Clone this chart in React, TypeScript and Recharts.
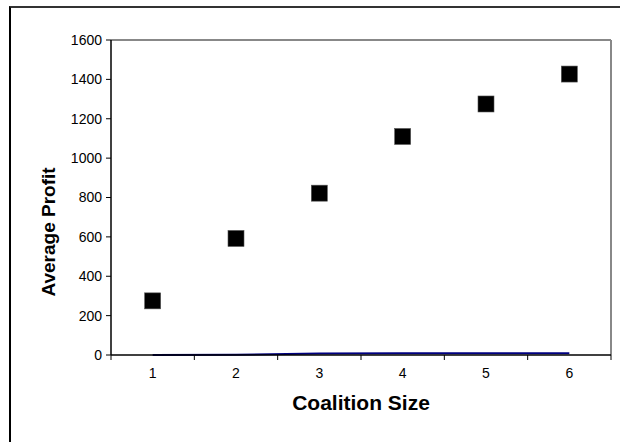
import {
  ComposedChart,
  Line,
  Scatter,
  XAxis,
  YAxis,
  ReferenceLine,
} from "recharts";

const sizes = [1, 2, 3, 4, 5, 6];
const avgProfit = [275, 592, 822, 1110, 1275, 1427];
const lowerLine = [0, 1, 8, 9, 9, 9];
const yTicks = [0, 200, 400, 600, 800, 1000, 1200, 1400, 1600];
const xTickMarks = [0.5, 1.5, 2.5, 3.5, 4.5, 5.5, 6.5];

const font = "'Liberation Sans', Arial, sans-serif";

const SquareMarker = (props: any) => {
  const { cx, cy } = props;
  if (cx == null || cy == null) return null;
  return (
    <rect x={cx - 8} y={cy - 8} width={16} height={16} fill="#000" stroke="#555" strokeWidth={0.6} />
  );
};

// y axis title, sits a bit below the plot's middle like the original
const YTitle = () => (
  <text
    x={48}
    y={232}
    transform="rotate(-90 48 232)"
    textAnchor="middle"
    dominantBaseline="central"
    style={{ fontSize: 19, fontWeight: "bold", fill: "#000", fontFamily: font }}
  >
    Average Profit
  </text>
);

export default function App() {
  const data = sizes.map((s, i) => ({
    size: s,
    profit: avgProfit[i],
    low: lowerLine[i],
  }));

  return (
    <div
      style={{
        position: "absolute",
        left: 0,
        top: 0,
        width: 620,
        height: 442,
        overflow: "hidden",
        background: "#fff",
      }}
    >
      {/* outer frame, runs off the right and bottom edges */}
      <div
        style={{
          position: "absolute",
          left: 9,
          top: 6,
          width: 700,
          height: 500,
          borderLeft: "2px solid #000",
          borderTop: "2px solid #333",
        }}
      />
      <div style={{ position: "absolute", left: 0, top: 0 }}>
        <ComposedChart
          width={620}
          height={442}
          data={data}
          margin={{ top: 40, right: 9, bottom: 0, left: 0 }}
          style={{ fontFamily: font }}
        >
          {/* tick marks between categories, like Excel */}
          <XAxis
            xAxisId="a_marks"
            dataKey="size"
            type="number"
            domain={[0.5, 6.5]}
            ticks={xTickMarks}
            tickFormatter={() => ""}
            tickSize={5}
            height={6}
            axisLine={{ stroke: "#000", strokeWidth: 1.5 }}
            tickLine={{ stroke: "#000" }}
          />
          <XAxis
            xAxisId="b_labels"
            dataKey="size"
            type="number"
            domain={[0.5, 6.5]}
            ticks={sizes}
            axisLine={false}
            tickLine={false}
            tickSize={0}
            tickMargin={7}
            height={81}
            tick={{ fill: "#000", fontSize: 14, fontFamily: font }}
            label={{
              value: "Coalition Size",
              position: "insideTop",
              offset: 34,
              style: { fontSize: 21, fontWeight: "bold", fill: "#000", fontFamily: font },
            }}
          />
          <YAxis
            type="number"
            domain={[0, 1600]}
            ticks={yTicks}
            width={111}
            tickSize={5}
            tickMargin={4}
            axisLine={{ stroke: "#000", strokeWidth: 1.5 }}
            tickLine={{ stroke: "#000" }}
            tick={{ fill: "#000", fontSize: 14, fontFamily: font }}
            label={{ content: <YTitle /> }}
          />
          <ReferenceLine xAxisId="a_marks" y={1600} stroke="#888" strokeWidth={2} />
          <ReferenceLine xAxisId="a_marks" x={6.5} stroke="#888" strokeWidth={2} />
          <Line
            xAxisId="a_marks"
            dataKey="low"
            stroke="#000080"
            strokeWidth={2}
            dot={false}
            isAnimationActive={false}
          />
          <Scatter
            xAxisId="a_marks"
            dataKey="profit"
            shape={<SquareMarker />}
            isAnimationActive={false}
          />
        </ComposedChart>
      </div>
    </div>
  );
}
